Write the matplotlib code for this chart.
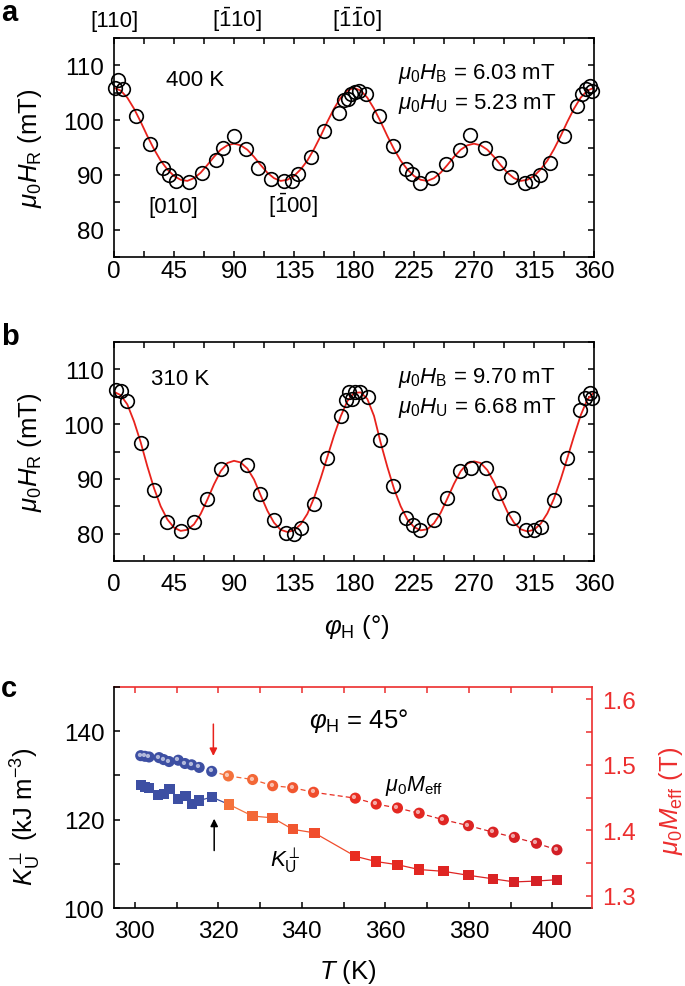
import numpy as np
import matplotlib
matplotlib.use("Agg")
import matplotlib.pyplot as plt
from matplotlib.ticker import MultipleLocator
from matplotlib.collections import LineCollection
from matplotlib.colors import LinearSegmentedColormap, Normalize
from matplotlib.markers import MarkerStyle
from matplotlib.transforms import Affine2D, blended_transform_factory

plt.rcParams["font.family"] = ["Liberation Sans", "DejaVu Sans"]
plt.rcParams["mathtext.fontset"] = "custom"
plt.rcParams["mathtext.rm"] = "Liberation Sans"
plt.rcParams["mathtext.it"] = "Liberation Sans:italic"
plt.rcParams["mathtext.bf"] = "Liberation Sans:bold"

# ---- panel a: 400 K, resonance field vs in-plane angle ----
phi_a = [0.5, 3, 6.75, 16.25, 26.75, 36.75, 41, 46.25, 56.25, 66.25,
         76.25, 81.75, 90, 98.75, 108, 118, 127.25, 133.5, 138, 148,
         157.5, 168.75, 172.5, 175.5, 178, 180.5, 183.8, 189.3, 198.5, 209.3,
         218.8, 223.8, 229.3, 238.8, 249.3, 259.3, 266.8, 278, 288.5, 298,
         308, 313.8, 319.3, 326.8, 337.3, 347.3, 351, 354.3, 356.8, 358.5]
hr_a = [105.8, 107.4, 105.6, 100.7, 95.7, 91.3, 89.9, 88.9, 88.7, 90.4,
        92.7, 95.0, 97.1, 94.7, 91.3, 89.3, 88.9, 88.9, 90.1, 93.2,
        98.1, 101.3, 103.6, 103.8, 104.7, 105.2, 105.4, 104.7, 100.7, 95.3,
        91.0, 90.1, 88.6, 89.5, 91.9, 94.5, 97.2, 95.0, 92.2, 89.6,
        88.6, 88.9, 89.9, 92.2, 97.1, 102.5, 104.7, 105.6, 106.2, 105.4]

# fitted curve every 5 degrees
phi_fit = list(range(0, 361, 5))
fit_a = [105.9, 105.4, 104.1, 102.1, 99.7, 97.1, 94.7, 92.6, 91.0, 89.8,
         89.1, 88.9, 89.4, 90.4, 91.8, 93.3, 94.6, 95.4, 95.7, 95.4,
         94.6, 93.3, 91.8, 90.4, 89.4, 88.9, 89.1, 89.8, 91.0, 92.6,
         94.7, 97.1, 99.7, 102.1, 104.1, 105.4, 105.9,
         105.4, 104.1, 102.1, 99.7, 97.1, 94.7, 92.6, 91.0, 89.8,
         89.1, 88.9, 89.4, 90.4, 91.8, 93.3, 94.6, 95.4, 95.7, 95.4,
         94.6, 93.3, 91.8, 90.4, 89.4, 88.9, 89.1, 89.8, 91.0, 92.6,
         94.7, 97.1, 99.7, 102.1, 104.1, 105.4, 105.9]

# ---- panel b: 310 K ----
phi_b = [1.75, 5, 9.75, 20, 30, 40, 50, 60, 70, 80,
         100, 109.25, 119.75, 129.25, 134.75, 140, 150, 160, 170, 174,
         176.5, 178.5, 181, 184.5, 190.5, 199.3, 209.3, 219.3, 224.3, 229.8,
         239.8, 249.8, 259.8, 268, 279.3, 288.8, 299.3, 309.3, 314.8, 320,
         330, 340, 349.3, 353, 356.8, 358.5]
hr_b = [106.2, 106.0, 104.2, 96.6, 88.0, 82.2, 80.5, 82.1, 86.3, 91.8,
        92.5, 87.3, 82.5, 80.2, 80.0, 81.0, 85.5, 93.9, 101.5, 104.4,
        105.8, 104.5, 105.8, 105.9, 105.0, 97.1, 88.7, 82.8, 81.6, 80.6,
        82.4, 86.5, 91.5, 91.9, 91.9, 87.5, 82.8, 80.6, 80.6, 81.3,
        86.1, 93.9, 102.5, 104.7, 105.6, 104.8]
fit_b = [105.9, 105.3, 103.6, 100.5, 96.7, 92.3, 88.3, 85.0, 82.6, 81.1,
         80.5, 80.7, 81.7, 83.6, 86.2, 89.0, 91.4, 92.9, 93.3, 93.0,
         91.9, 89.9, 87.0, 84.2, 82.0, 80.7, 80.3, 80.6, 81.7, 83.6,
         86.5, 90.1, 94.0, 97.9, 101.4, 104.2, 105.7,
         105.8, 104.6, 101.5, 96.6, 92.2, 88.2, 85.0, 82.6, 81.2,
         80.6, 80.8, 81.9, 83.8, 86.4, 89.1, 91.4, 92.8, 93.2, 92.9,
         91.6, 89.4, 86.7, 84.0, 82.0, 80.8, 80.4, 80.7, 81.8, 83.7,
         86.4, 89.9, 93.8, 97.8, 101.6, 104.5, 105.8]

# ---- panel c: temperature dependence at phi_H = 45 deg ----
t_meff = [301.4, 302.4, 303.4, 305.8, 306.9, 308.2, 310.4, 312.0, 313.6, 315.4,
          318.4, 322.4, 328.2, 333.0, 337.8, 342.8, 352.8, 357.8, 362.9, 368.1,
          373.9, 379.9, 385.8, 390.9, 396.2, 401.1]
meff = [1.514, 1.513, 1.512, 1.511, 1.508, 1.505, 1.507, 1.502, 1.500, 1.496,
        1.490, 1.483, 1.4775, 1.468, 1.465, 1.458, 1.449, 1.440, 1.434, 1.426,
        1.416, 1.407, 1.397, 1.389, 1.380, 1.370]
t_ku = [301.4, 302.4, 303.4, 305.5, 306.9, 308.3, 310.4, 312.1, 313.7, 315.4,
        318.4, 322.6, 328.2, 333.0, 337.8, 343.0, 352.8, 357.8, 362.9, 368.1,
        373.9, 379.9, 385.8, 390.9, 396.2, 401.1]
ku = [127.9, 127.3, 127.1, 125.6, 125.8, 127.0, 124.7, 125.3, 123.6, 124.3,
      125.1, 123.4, 120.8, 120.4, 117.8, 117.0, 111.7, 110.5, 109.8, 108.7,
      108.3, 107.4, 106.6, 105.9, 106.1, 106.4]
T_SPLIT = 320

RED = "#e8221c"
AX_RED = "#ec2e2e"
BLUE = "#3d4fa3"
TICK_FS = 17.5
NOTE_FS = 16
W, H = 685, 987

fig = plt.figure(figsize=(W / 100, H / 100), dpi=100)


def px_axes(left, top, right, bottom):
    return fig.add_axes([left / W, 1 - bottom / H, (right - left) / W, (bottom - top) / H])


def style_phi_axes(ax, xpad):
    ax.set_xlim(0, 360)
    ax.set_ylim(75, 115)
    ax.xaxis.set_major_locator(MultipleLocator(45))
    ax.xaxis.set_minor_locator(MultipleLocator(22.5))
    ax.yaxis.set_major_locator(MultipleLocator(10))
    ax.yaxis.set_minor_locator(MultipleLocator(5))
    ax.tick_params(which="both", direction="in", top=True, right=True,
                   length=4.5, width=1.1, labelsize=TICK_FS)
    ax.tick_params(axis="x", pad=xpad)
    ax.tick_params(axis="y", pad=7)
    for s in ax.spines.values():
        s.set_linewidth(1.2)
    ax.set_ylabel(r"$\mu_0H_\mathrm{R}$ (mT)", fontsize=18.5)
    ax.yaxis.set_label_coords(-0.176, 0.5)
    ax.yaxis.label.set_va("center")


def draw_phi_panel(ax, phi, hr, fit):
    ax.plot(phi_fit, fit, color=RED, lw=1.3, zorder=2)
    ax.plot(phi, hr, "o", mfc="none", mec="black", mew=1.2, ms=9.8,
            clip_on=False, zorder=3)


ax_a = px_axes(114, 39, 594, 258)
ax_b = px_axes(114, 343, 594, 562)
ax_c = px_axes(114, 688, 592, 909)

# panel a
style_phi_axes(ax_a, 2.5)
draw_phi_panel(ax_a, phi_a, hr_a, fit_a)
ax_a.text(39, 106.5, "400 K", fontsize=NOTE_FS, ha="left", va="baseline")
ax_a.text(213, 107.7, r"$\mu_0H_\mathrm{B}$ = 6.03 mT", fontsize=NOTE_FS, va="baseline")
ax_a.text(213, 102.2, r"$\mu_0H_\mathrm{U}$ = 5.23 mT", fontsize=NOTE_FS, va="baseline")
ax_a.text(44.3, 83.2, "[010]", fontsize=NOTE_FS, ha="center", va="baseline")
ax_a.text(134.2, 83.2, r"[$\bar{\mathrm{1}}$00]", fontsize=NOTE_FS, ha="center", va="baseline")
top_tr = blended_transform_factory(ax_a.transData, ax_a.transAxes)
for xpos, lab in [(0, "[110]"), (92, r"[$\bar{\mathrm{1}}$10]"),
                  (182, r"[$\bar{\mathrm{1}}\bar{\mathrm{1}}$0]")]:
    ax_a.text(xpos, 1.053, lab, transform=top_tr, fontsize=NOTE_FS,
              ha="center", va="baseline")

# panel b
style_phi_axes(ax_b, 8.5)
draw_phi_panel(ax_b, phi_b, hr_b, fit_b)
ax_b.text(28, 107.3, "310 K", fontsize=NOTE_FS, ha="left", va="baseline")
ax_b.text(213, 107.7, r"$\mu_0H_\mathrm{B}$ = 9.70 mT", fontsize=NOTE_FS, va="baseline")
ax_b.text(213, 102.3, r"$\mu_0H_\mathrm{U}$ = 6.68 mT", fontsize=NOTE_FS, va="baseline")
ax_b.set_xlabel(r"$\varphi_\mathrm{H}$ (°)", fontsize=18.5)
ax_b.xaxis.set_label_coords(0.506, -0.295)
ax_b.xaxis.label.set_va("center")

# panel c
ax_m = ax_c.twinx()
ax_c.set_xlim(295, 409.5)
ax_c.set_ylim(100, 150)
ax_m.set_ylim(1.281, 1.619)
ax_c.xaxis.set_major_locator(MultipleLocator(20))
ax_c.xaxis.set_minor_locator(MultipleLocator(10))
ax_c.yaxis.set_major_locator(MultipleLocator(20))
ax_c.yaxis.set_minor_locator(MultipleLocator(10))
ax_m.yaxis.set_major_locator(MultipleLocator(0.1))
ax_m.yaxis.set_minor_locator(MultipleLocator(0.05))
ax_c.tick_params(which="both", direction="in", top=False, right=False,
                 length=4.5, width=1.1, labelsize=TICK_FS)
ax_c.tick_params(axis="x", pad=8.5)
ax_c.tick_params(axis="y", pad=7)
ax_m.tick_params(which="both", direction="in", length=4.5, width=1.1,
                 labelsize=TICK_FS, color=AX_RED, labelcolor=AX_RED, pad=7)
for name in ["top", "right"]:
    ax_c.spines[name].set_visible(False)
for name in ["top", "left", "bottom"]:
    ax_m.spines[name].set_visible(False)
ax_c.spines["left"].set_linewidth(1.2)
ax_c.spines["bottom"].set_linewidth(1.2)
ax_m.spines["right"].set_color(AX_RED)
ax_m.spines["right"].set_linewidth(1.2)

sec = ax_c.secondary_xaxis("top")
sec.xaxis.set_major_locator(MultipleLocator(20))
sec.xaxis.set_minor_locator(MultipleLocator(10))
sec.tick_params(which="both", direction="in", length=4.5, width=1.1,
                color=AX_RED, labeltop=False)
for s in sec.spines.values():
    s.set_color(AX_RED)
    s.set_linewidth(1.2)

warm = LinearSegmentedColormap.from_list(
    "warm", [(0.0, "#f4733c"), (0.27, "#f04c2c"), (0.4, "#e82a20"), (1.0, "#d31f26")])
tnorm = Normalize(322, 401)


def point_colors(temps):
    return [BLUE if t < T_SPLIT else warm(tnorm(t)) for t in temps]


def colored_line(ax, xs, ys, use_end, **kw):
    pts = np.column_stack([xs, ys])
    segs = np.stack([pts[:-1], pts[1:]], axis=1)
    cols = point_colors(xs)
    seg_cols = cols[1:] if use_end else cols[:-1]
    ax.add_collection(LineCollection(segs, colors=seg_cols, **kw))


colored_line(ax_c, t_ku, ku, False, linewidths=0.9, zorder=2)
ax_c.scatter(t_ku, ku, marker="s", s=7.4 ** 2, c=point_colors(t_ku),
             linewidths=0, zorder=3)

colored_line(ax_m, t_meff, meff, True, linewidths=0.9,
             linestyles=[(0, (4, 2.5))], zorder=2)
ax_m.scatter(t_meff, meff, marker="o", s=8 ** 2, c=point_colors(t_meff),
             linewidths=0, zorder=3)
shine = MarkerStyle("o", transform=Affine2D().scale(0.38).translate(-0.14, 0.14))
ax_m.scatter(t_meff, meff, marker=shine, s=8 ** 2, c="white", alpha=0.6,
             linewidths=0, zorder=4)

ax_c.annotate("", xy=(318.8, 134.4), xytext=(318.8, 141.6),
              arrowprops=dict(arrowstyle="-|>", color=RED, lw=1.1,
                              mutation_scale=11, shrinkA=0, shrinkB=0))
ax_c.annotate("", xy=(319.0, 120.2), xytext=(319.0, 113.0),
              arrowprops=dict(arrowstyle="-|>", color="black", lw=1.1,
                              mutation_scale=11, shrinkA=0, shrinkB=0))

ax_c.text(353.7, 140.9, r"$\varphi_\mathrm{H}$ = 45°", fontsize=18.5,
          ha="center", va="baseline")
ax_c.text(360, 126.6, r"$\mu_0M_\mathrm{eff}$", fontsize=15.5, va="baseline")
ax_c.text(332.4, 109.3, r"$K_\mathrm{U}^{\perp}$", fontsize=16, va="baseline")

ax_c.set_xlabel(r"$T$ (K)", fontsize=18.5)
ax_c.xaxis.set_label_coords(0.49, -0.284)
ax_c.xaxis.label.set_va("center")
ax_c.set_ylabel(r"$K_\mathrm{U}^{\perp}$ (kJ m$^{-3}$)", fontsize=18.5)
ax_c.yaxis.set_label_coords(-0.185, 0.42)
ax_c.yaxis.label.set_va("center")
ax_m.set_ylabel(r"$\mu_0M_\mathrm{eff}$ (T)", fontsize=18.5, color=AX_RED)
ax_m.yaxis.set_label_coords(1.166, 0.49)
ax_m.yaxis.label.set_va("center")

# panel letters
for ybase, letter in [(21, "a"), (345, "b"), (697, "c")]:
    fig.text(1 / W, 1 - ybase / H, letter, fontsize=21, fontweight="bold",
             ha="left", va="baseline")

fig.savefig("out.png", dpi=100)
